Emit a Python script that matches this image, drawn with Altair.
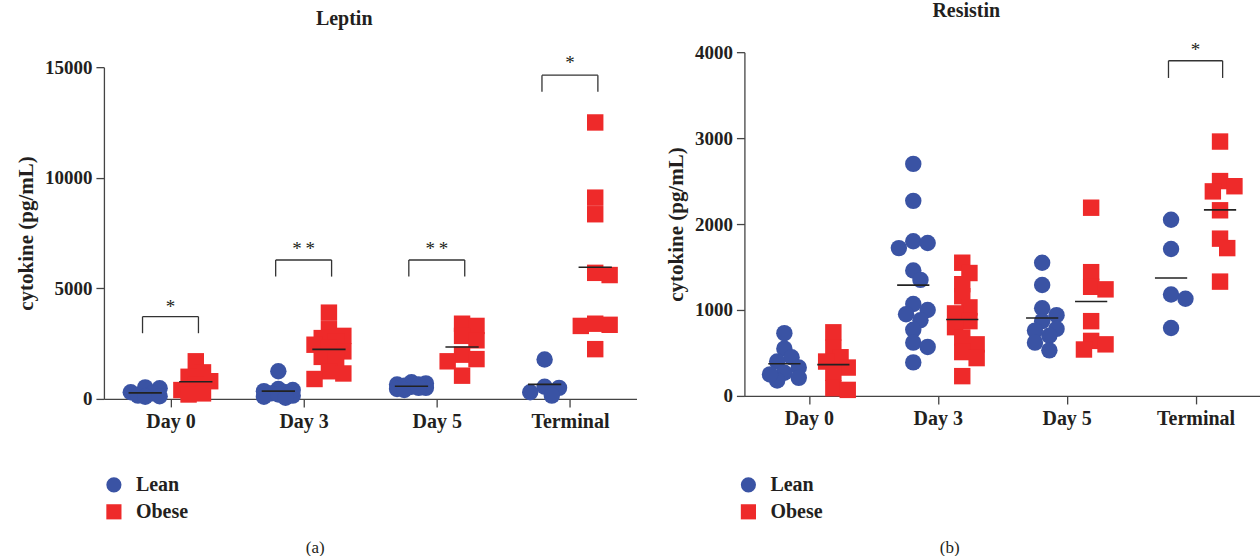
import altair as alt
import pandas as pd

CATS = ["Day 0", "Day 3", "Day 5", "Terminal"]
GROUPS = ["Lean", "Obese"]
COLORS = ["#3a53a4", "#ee2a2a"]
SHAPES = ["circle", "square"]

# ---------------- Leptin (pg/mL) ----------------
leptin_lean_day0 = [520, 480, 300, 250, 150, 100, 120]
leptin_lean_day3 = [1250, 450, 350, 300, 250, 150, 100, 200, 400, 50]
leptin_lean_day5 = [750, 700, 650, 600, 550, 500, 450, 400, 650, 500]
leptin_lean_term = [1780, 550, 500, 300, 150]
leptin_obese_day0 = [1700, 1200, 1000, 800, 650, 400, 250, 200]
leptin_obese_day3 = [3900, 3150, 2850, 2750, 2600, 2450, 2300, 2150, 1900, 1750, 1250, 1150, 900]
leptin_obese_day5 = [3400, 3300, 2850, 2650, 2000, 1800, 1700, 1050]
leptin_obese_term = [12500, 9100, 8350, 5600, 5700, 3350, 3400, 3300, 2250]

# ---------------- Resistin (pg/mL) ----------------
resistin_lean_day0 = [730, 550, 450, 400, 330, 270, 210, 180, 250]
resistin_lean_day3 = [2700, 2270, 1800, 1780, 1720, 1460, 1350, 1070, 1000, 950, 880, 770, 620, 570, 390]
resistin_lean_day5 = [1550, 1290, 1020, 940, 870, 780, 760, 700, 620, 530]
resistin_lean_term = [2050, 1710, 1180, 1130, 790]
resistin_obese_day0 = [740, 560, 450, 400, 330, 270, 90, 70]
resistin_obese_day3 = [1550, 1430, 1300, 1160, 1030, 960, 870, 800, 680, 600, 510, 440, 230]
resistin_obese_day5 = [2190, 1440, 1270, 1240, 870, 640, 600, 540]
resistin_obese_term = [2960, 2500, 2440, 2380, 2160, 1830, 1720, 1330]

# significance brackets: category index, top of bracket, bottom of legs, star level, label
leptin_br_cat = [0, 1, 2, 3]
leptin_br_top = [3720, 6280, 6280, 14640]
leptin_br_leg = [2970, 5530, 5530, 13890]
leptin_br_star = [4150, 6800, 6800, 15170]
leptin_br_label = ["*", "*\u2009*", "*\u2009*", "*"]

resistin_br_cat = [3]
resistin_br_top = [3900]
resistin_br_leg = [3700]
resistin_br_star = [4020]
resistin_br_label = ["*"]

GROUP_OFF = 0.19
MEAN_HALF = 0.125
BR_HALF = 0.21
FONT = "Liberation Serif"
TXT = "#231f20"


def swarm(vals, px_per_unit, spacing_px, d=16.0):
    """simple beeswarm: horizontal offsets (category units) so markers overlap little"""
    order = sorted(range(len(vals)), key=lambda i: -vals[i])
    s = 0.45 * d
    cands = [0, s, -s, 2 * s, -2 * s]
    placed, out = [], [0.0] * len(vals)
    for i in order:
        y = vals[i] * px_per_unit
        best = None
        for c in cands:
            if all((c - px) ** 2 + (y - py) ** 2 >= (0.7 * d) ** 2 for px, py in placed):
                best = c
                break
        if best is None:
            best = max(cands, key=lambda c: min((c - px) ** 2 + (y - py) ** 2 for px, py in placed))
        placed.append((best, y))
        out[i] = best / spacing_px
    return out


def build(lean, obese, px_per_unit, spacing_px):
    rows, means = [], []
    for g, series in ((0, lean), (1, obese)):
        off = -GROUP_OFF if g == 0 else GROUP_OFF
        for c, vals in enumerate(series):
            jit = swarm(vals, px_per_unit, spacing_px)
            for v, j in zip(vals, jit):
                rows.append({"group": GROUPS[g], "xpos": c + off + j, "value": v})
            m = sum(vals) / len(vals)
            means.append({"xpos": c + off - MEAN_HALF, "xpos2": c + off + MEAN_HALF, "value": m})
    return pd.DataFrame(rows), pd.DataFrame(means)


def brackets(cats, tops, legs, stars, labels):
    top = pd.DataFrame({"xpos": [c - BR_HALF for c in cats], "xpos2": [c + BR_HALF for c in cats], "value": tops})
    lg = []
    for c, t, l in zip(cats, tops, legs):
        lg.append({"xpos": c - BR_HALF, "value": t, "value2": l})
        lg.append({"xpos": c + BR_HALF, "value": t, "value2": l})
    st = pd.DataFrame({"xpos": cats, "value": stars, "label": labels})
    return top, pd.DataFrame(lg), st


def panel(df, means, br_top, br_legs, br_stars, ymax, yticks, yrange, width, height,
          title, title_dx, title_off, caption, cap_x, cap_y, leg_x, leg_y):
    xaxis = alt.Axis(values=[0, 1, 2, 3],
                     labelExpr="['Day 0','Day 3','Day 5','Terminal'][datum.value]",
                     title=caption, titleX=cap_x, titleY=cap_y, titleFont=FONT,
                     titleFontWeight="normal", titleFontSize=17, titleColor=TXT,
                     titleBaseline="middle", titleAlign="center",
                     grid=False, tickSize=8, labelPadding=5, labelFontSize=20)
    x = alt.X("xpos:Q", scale=alt.Scale(domain=[-0.5, 3.5], nice=False, zero=False), axis=xaxis)
    yaxis = alt.Axis(values=yticks, format="d", title="cytokine (pg/mL)", grid=False,
                     tickSize=8, labelPadding=4, titlePadding=8)
    y = alt.Y("value:Q", scale=alt.Scale(domain=[0, ymax], range=yrange, nice=False, zero=True), axis=yaxis)

    legend = alt.Legend(orient="none", legendX=leg_x, legendY=leg_y, title=None,
                        labelFont=FONT, labelFontSize=20, labelFontWeight="bold", labelColor=TXT,
                        symbolSize=230, symbolStrokeWidth=0, rowPadding=7, labelOffset=12)
    pts = alt.Chart(df).mark_point(filled=True, size=270, opacity=1, strokeWidth=0).encode(
        x=x, y=y,
        color=alt.Color("group:N", scale=alt.Scale(domain=GROUPS, range=COLORS), legend=legend),
        shape=alt.Shape("group:N", scale=alt.Scale(domain=GROUPS, range=SHAPES), legend=legend),
    )
    mean_rule = alt.Chart(means).mark_rule(color="#222222", strokeWidth=1.6).encode(
        x=x, x2=alt.X2("xpos2:Q"), y=y)
    btop = alt.Chart(br_top).mark_rule(color="#333333", strokeWidth=1.3).encode(
        x=x, x2=alt.X2("xpos2:Q"), y=y)
    blegs = alt.Chart(br_legs).mark_rule(color="#333333", strokeWidth=1.3).encode(
        x=x, y=y, y2=alt.Y2("value2:Q"))
    bstar = alt.Chart(br_stars).mark_text(font=FONT, fontSize=19, color=TXT, baseline="middle").encode(
        x=x, y=y, text="label:N")
    return alt.layer(pts, mean_rule, btop, blegs, bstar).properties(
        width=width, height=height,
        title=alt.TitleParams(text=title, dx=title_dx, offset=title_off, anchor="middle", font=FONT,
                              fontSize=20, fontWeight="bold", color=TXT),
    )


# Leptin panel geometry: 15000 spans 332 px, categories 133 px apart
lep_df, lep_means = build(
    [leptin_lean_day0, leptin_lean_day3, leptin_lean_day5, leptin_lean_term],
    [leptin_obese_day0, leptin_obese_day3, leptin_obese_day5, leptin_obese_term],
    332 / 15000, 133)
res_df, res_means = build(
    [resistin_lean_day0, resistin_lean_day3, resistin_lean_day5, resistin_lean_term],
    [resistin_obese_day0, resistin_obese_day3, resistin_obese_day5, resistin_obese_term],
    344 / 4000, 129)

lt, ll, ls = brackets(leptin_br_cat, leptin_br_top, leptin_br_leg, leptin_br_star, leptin_br_label)
rt, rl, rs = brackets(resistin_br_cat, resistin_br_top, resistin_br_leg, resistin_br_star, resistin_br_label)

left = panel(lep_df, lep_means, lt, ll, ls, 15000, [0, 5000, 10000, 15000], [347, 15], 533, 347,
             "Leptin", -26, 23, "(a)", 211, 149, 0, 423)
right = panel(res_df, res_means, rt, rl, rs, 4000, [0, 1000, 2000, 3000, 4000], [344, 0], 516, 344,
              "Resistin", -36, 20, "(b)", 205, 152, -6, 423)

chart = alt.hconcat(left, right, spacing=108, bounds="flush").resolve_legend(
    color="independent", shape="independent"
).properties(
    padding={"left": 15, "top": 1, "right": 0, "bottom": 0}
).configure_view(stroke=None).configure_axis(
    domainColor="#444444", tickColor="#444444", domainWidth=1.3, tickWidth=1.3,
    labelFont=FONT, labelFontSize=19, labelFontWeight="bold", labelColor=TXT,
    titleFont=FONT, titleFontSize=21, titleFontWeight="bold", titleColor=TXT,
)

chart.save("out.html", embed_options={"renderer": "svg", "actions": False})
